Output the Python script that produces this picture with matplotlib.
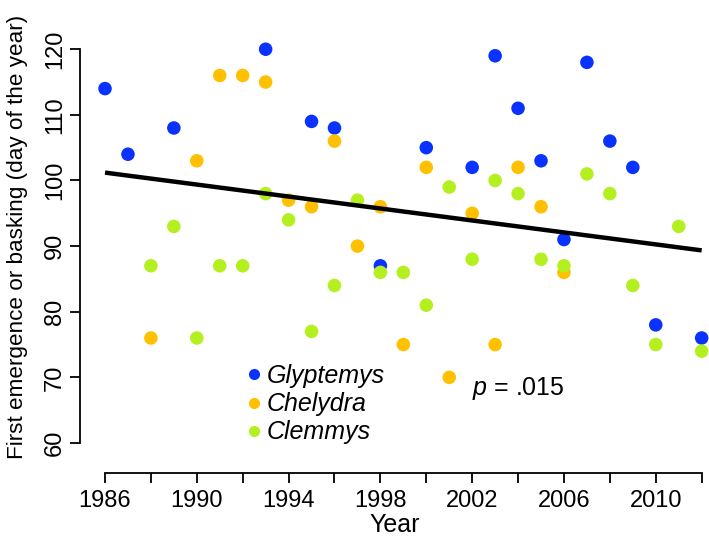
import matplotlib
matplotlib.use('Agg')
import matplotlib.pyplot as plt
from matplotlib.lines import Line2D

plt.rcParams['font.family'] = ['Liberation Sans', 'DejaVu Sans']
plt.rcParams['mathtext.fontset'] = 'custom'
plt.rcParams['mathtext.it'] = 'Liberation Sans:italic'
plt.rcParams['mathtext.rm'] = 'Liberation Sans'

# Glyptemys (blue)
glyp_years = [1986, 1987, 1989, 1993, 1995, 1996, 1998, 2000, 2002, 2003,
              2004, 2005, 2006, 2007, 2008, 2009, 2010, 2012]
glyp_days = [114, 104, 108, 120, 109, 108, 87, 105, 102, 119,
             111, 103, 91, 118, 106, 102, 78, 76]

# Chelydra (orange)
chel_years = [1988, 1990, 1991, 1992, 1993, 1994, 1995, 1996, 1997, 1998,
              1999, 2000, 2001, 2002, 2003, 2004, 2005, 2006]
chel_days = [76, 103, 116, 116, 115, 97, 96, 106, 90, 96,
             75, 102, 70, 95, 75, 102, 96, 86]

# Clemmys (green)
clem_years = [1988, 1989, 1990, 1991, 1992, 1993, 1994, 1995, 1996, 1997,
              1998, 1999, 2000, 2001, 2002, 2003, 2004, 2005, 2006, 2007,
              2008, 2009, 2010, 2011, 2012]
clem_days = [87, 93, 76, 87, 87, 98, 94, 77, 84, 97,
             86, 86, 81, 99, 88, 100, 98, 88, 87, 101,
             98, 84, 75, 93, 74]

# fitted trend line
trend_years = [1986, 2012]
trend_days = [101.2, 89.35]

species = ['Glyptemys', 'Chelydra', 'Clemmys']
colors = ['#0A32FF', '#FFC000', '#B4F020']

fig = plt.figure(figsize=(7.09, 5.48), dpi=100)
ax = fig.add_axes([80 / 709, 75 / 548, 629 / 709, 473 / 548])

ax.scatter(glyp_years, glyp_days, s=95, color=colors[0], edgecolors='none', clip_on=False, zorder=3)
ax.scatter(chel_years, chel_days, s=95, color=colors[1], edgecolors='none', clip_on=False, zorder=3)
ax.scatter(clem_years, clem_days, s=95, color=colors[2], edgecolors='none', clip_on=False, zorder=3)
ax.plot(trend_years, trend_days, color='black', linewidth=3.2, zorder=4, solid_capstyle='butt')

ax.set_xlim(1984.91, 2012.32)
ax.set_ylim(55.43, 127.5)

# R style axes: only lines between first and last tick
for side in ['top', 'right']:
    ax.spines[side].set_visible(False)
ax.spines['left'].set_bounds(60, 120)
ax.spines['bottom'].set_bounds(1986, 2012)
ax.spines['left'].set_linewidth(1.3)
ax.spines['bottom'].set_linewidth(1.3)

xticks = list(range(1986, 2013, 2))
ax.set_xticks(xticks)
ax.set_xticklabels([str(t) if (t - 1986) % 4 == 0 else '' for t in xticks])
ax.set_yticks(range(60, 121, 10))
ax.tick_params(axis='both', direction='out', length=7, width=1.3, labelsize=17)
ax.tick_params(axis='x', pad=5)
ax.tick_params(axis='y', pad=3)
for lab in ax.get_yticklabels():
    lab.set_rotation(90)
    lab.set_va('center')

ax.set_xlabel('Year', fontsize=18, labelpad=1)
ax.set_ylabel('First emergence or basking (day of the year)', fontsize=16.2)
ax.yaxis.set_label_coords(-0.083, 0.5)

handles = [Line2D([], [], linestyle='none', marker='o', markersize=8,
                  markerfacecolor=c, markeredgecolor='none') for c in colors]
leg = ax.legend(handles, species, loc='upper left', bbox_to_anchor=(248 / 709, (548 - 364) / 548),
                bbox_transform=fig.transFigure, frameon=False, fontsize=18,
                handlelength=0.5, handletextpad=0.25, labelspacing=0.17, borderpad=0, borderaxespad=0)
for t in leg.get_texts():
    t.set_style('italic')

ax.text(2001.98, 68.3, r'$p$ = .015', fontsize=18, ha='left', va='center')

fig.savefig('out.png', dpi=100)
